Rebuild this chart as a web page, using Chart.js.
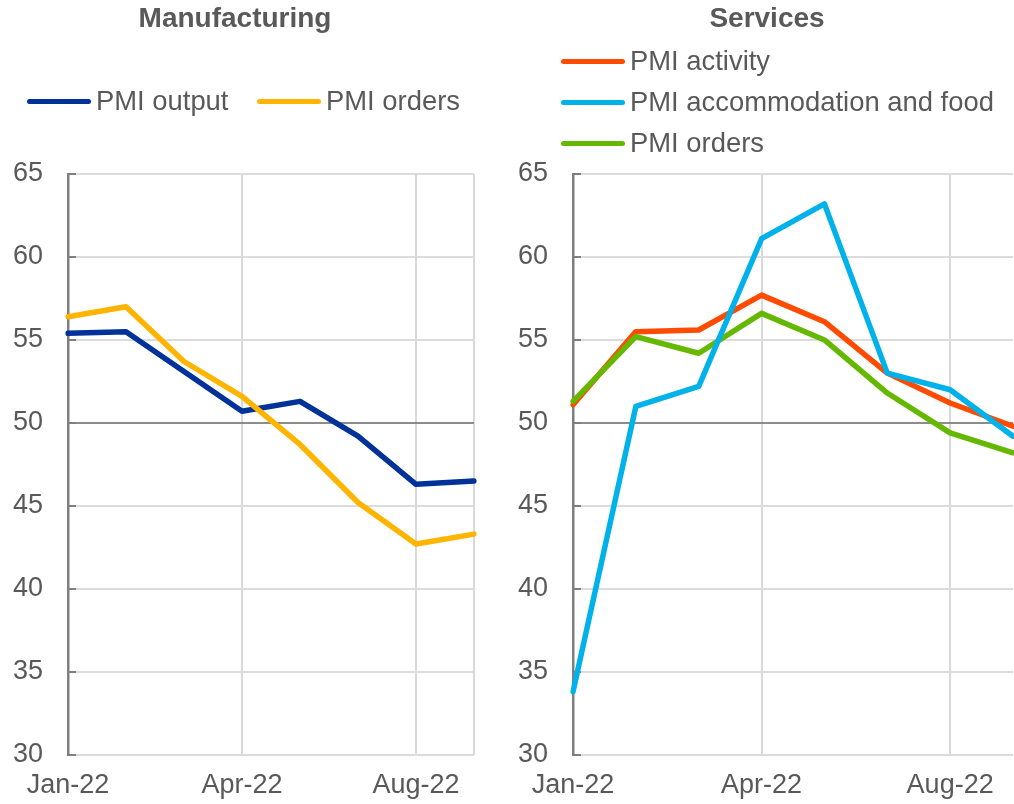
<!DOCTYPE html>
<html>
<head>
<meta charset="utf-8">
<script src="https://cdn.jsdelivr.net/npm/chart.js@4/dist/chart.umd.min.js"></script>
<style>
  body { margin: 0; background: #fff; width: 1014px; height: 804px; overflow: hidden; position: relative;
         font-family: "Liberation Sans", Arial, sans-serif; color: #595959; }
  .panel { position: absolute; top: 0; height: 804px; }
  .title { position: absolute; top: 2px; font-weight: bold; font-size: 28px; white-space: nowrap; transform: translateX(-50%); }
  .leg { position: absolute; display: flex; align-items: center; font-size: 27.4px; white-space: nowrap; height: 30px; }
  .leg span.sw { display: inline-block; width: 64px; height: 5px; border-radius: 3px; margin-right: 5px; }
</style>
</head>
<body>
<div class="panel" style="left:0;width:500px"><canvas id="manu"></canvas></div>
<div class="panel" style="left:500px;width:514px"><canvas id="serv"></canvas></div>
<div class="title" style="left:235px">Manufacturing</div>
<div class="title" style="left:767px">Services</div>
<div id="legends"></div>
<script>
// x axis: 8 monthly points, only three labelled in the original
const xTickLabels = ['Jan-22', '', '', 'Apr-22', '', '', 'Aug-22', ''];

// Manufacturing
const manuOutput = [55.4, 55.5, 53.1, 50.7, 51.3, 49.2, 46.3, 46.5];
const manuOrders = [56.4, 57.0, 53.7, 51.6, 48.7, 45.2, 42.7, 43.3];

// Services
const servActivity = [51.1, 55.5, 55.6, 57.7, 56.1, 53.0, 51.2, 49.8];
const servAccomm   = [33.8, 51.0, 52.2, 61.1, 63.2, 53.0, 52.0, 49.2];
const servOrders   = [51.3, 55.2, 54.2, 56.6, 55.0, 51.8, 49.4, 48.2];

const yMin = 30, yMax = 65, yStep = 5;

Chart.defaults.font.family = '"Liberation Sans", Arial, sans-serif';
Chart.defaults.color = '#595959';

function makeScales(gridIdx) {
  return {
    x: {
      type: 'category',
      offset: false,
      grid: {
        drawTicks: false,
        color: c => gridIdx.includes(c.index) ? '#d9d9d9' : 'rgba(0,0,0,0)',
        lineWidth: 2
      },
      border: { display: false },
      ticks: {
        autoSkip: false, maxRotation: 0, padding: 15,
        font: { size: 27 },
        callback: (v, i) => xTickLabels[i]
      },
      afterFit: s => { s.height = 47; s.paddingRight = 0; }
    },
    y: {
      min: yMin, max: yMax,
      grid: {
        drawTicks: true,
        tickLength: -8,          // short marks pointing into the plot
        tickColor: '#7f7f7f',
        tickWidth: 2,
        color: c => c.tick.value === 50 ? '#8c8c8c' : '#dcdcdc',
        lineWidth: 2
      },
      border: { color: '#7f7f7f', width: 2.5 },
      ticks: { stepSize: yStep, padding: 33, font: { size: 27 } },
      afterFit: s => { s.width = 55; }
    }
  };
}

function line(label, data, color, order) {
  return {
    label: label, data: data, borderColor: color, backgroundColor: color,
    borderWidth: 5.5, pointRadius: 0, tension: 0, order: order,
    borderJoinStyle: 'round', borderCapStyle: 'round'
  };
}

const manuSets = [
  line('PMI output', manuOutput, '#003299', 2),
  line('PMI orders', manuOrders, '#FFB400', 1)
];
const servSets = [
  line('PMI activity', servActivity, '#FF4B00', 3),
  line('PMI accommodation and food', servAccomm, '#00B1EA', 1),
  line('PMI orders', servOrders, '#65B800', 2)
];

function makeChart(id, sets, padding, gridIdx) {
  return new Chart(document.getElementById(id), {
    type: 'line',
    data: { labels: xTickLabels, datasets: sets },
    options: {
      responsive: true, maintainAspectRatio: false, animation: false,
      layout: { padding: padding },
      plugins: { legend: { display: false }, tooltip: { enabled: false } },
      scales: makeScales(gridIdx)
    }
  });
}

makeChart('manu', manuSets, { left: 13, right: 26, top: 174, bottom: 0 }, [0, 3, 6, 7]);
makeChart('serv', servSets, { left: 18, right: 1, top: 174, bottom: 0 }, [0, 3, 6]);

// legends built from the datasets
const legendPos = [
  { sets: manuSets, spots: [[27, 86], [257, 86]] },
  { sets: servSets, spots: [[561, 46], [561, 87], [561, 128]] }
];
const legBox = document.getElementById('legends');
legendPos.forEach(g => {
  g.sets.forEach((s, i) => {
    const d = document.createElement('div');
    d.className = 'leg';
    d.style.left = g.spots[i][0] + 'px';
    d.style.top = g.spots[i][1] + 'px';
    d.innerHTML = '<span class="sw" style="background:' + s.borderColor + '"></span>' + s.label;
    legBox.appendChild(d);
  });
});
</script>
</body>
</html>
